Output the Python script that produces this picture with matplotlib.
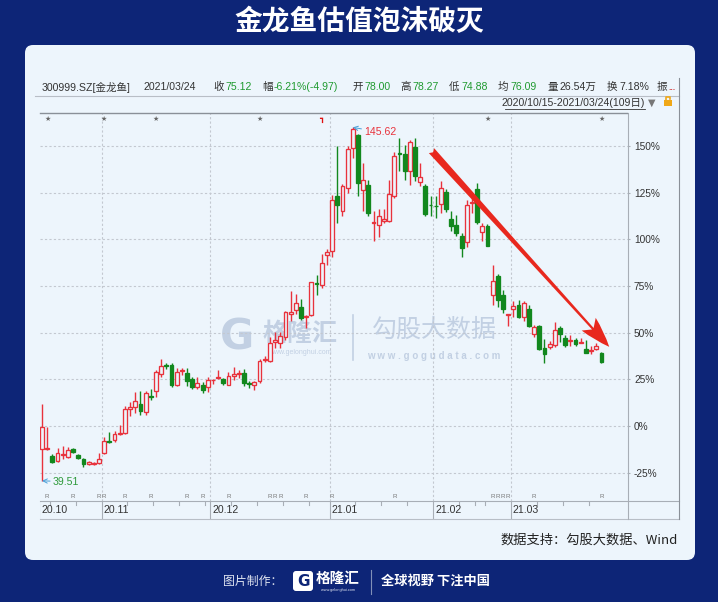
import numpy as np
import pandas as pd
import matplotlib.pyplot as plt
from matplotlib.patches import FancyBboxPatch, Rectangle

plt.rcParams['font.family'] = ['Liberation Sans', 'Noto Sans CJK SC', 'DejaVu Sans']

# ---- data: daily candles of 300999.SZ, % change vs 56.00 (first open) ----
pct_open = [-12.3, -12.3, -16.1, -18.8, -15.4, -16.5, -12.2, -15.4, -17.9, -20.6,
            -20.2, -20.0, -14.3, -8.4, -7.5, -4.1, -3.6, 9.0, 10.4, 11.8,
            7.7, 15.6, 18.8, 28.1, 32.3, 32.9, 22.0, 29.4, 28.3, 25.4,
            21.1, 22.2, 20.8, 24.4, 25.8, 25.1, 22.0, 26.8, 28.0, 28.3,
            22.5, 22.0, 24.1, 35.5, 35.0, 45.1, 44.7, 47.9, 60.1, 61.9,
            64.0, 58.4, 59.6, 76.3, 75.6, 91.6, 93.5, 123.0, 115.0, 127.5,
            149.0, 155.7, 126.6, 129.0, 109.0, 107.8, 110.0, 109.6, 123.1, 146.0,
            145.8, 136.5, 149.3, 130.5, 128.4, 118.4, 117.9, 118.9, 125.3, 110.9,
            107.8, 101.6, 98.6, 119.4, 127.0, 103.9, 107.3, 70.3, 80.5, 70.3,
            59.4, 62.6, 64.9, 58.3, 62.6, 49.4, 53.7, 41.7, 42.2, 43.5,
            52.4, 47.0, 45.7, 45.8, 44.6, 41.3, 40.1, 41.2, 39.3]
pct_high = [11.8, -0.5, -15.2, -11.8, -10.7, -11.3, -11.6, -14.9, -17.3, -18.7,
            -19.3, -14.3, -6.1, -3.2, -2.7, 0.5, 10.5, 13.0, 18.1, 18.6,
            19.0, 20.0, 30.0, 35.8, 34.0, 34.0, 31.2, 31.3, 31.0, 26.4,
            26.0, 23.6, 26.1, 25.2, 30.0, 25.6, 28.9, 31.8, 30.0, 30.6,
            24.0, 24.0, 35.8, 37.6, 47.6, 50.6, 50.6, 61.4, 72.1, 70.9,
            68.2, 59.5, 76.9, 81.0, 92.3, 95.0, 124.0, 149.9, 129.7, 149.9,
            160.0, 156.5, 141.0, 131.7, 115.3, 116.0, 116.3, 132.0, 146.8, 154.4,
            150.8, 153.4, 154.4, 141.0, 129.7, 123.0, 123.0, 131.1, 127.0, 115.0,
            113.1, 103.4, 120.9, 122.2, 130.2, 108.7, 108.0, 86.0, 81.5, 73.0,
            60.1, 66.7, 67.3, 66.7, 64.6, 54.2, 54.2, 46.5, 45.6, 55.9,
            53.7, 48.5, 48.8, 47.0, 47.0, 46.1, 42.6, 44.5, 39.8]
pct_low = [-29.4, -12.9, -20.0, -19.3, -17.7, -17.2, -14.6, -17.9, -21.8, -21.1,
           -20.7, -20.2, -15.2, -8.9, -8.4, -4.7, -4.2, 5.4, 7.1, 5.9,
           5.9, 13.9, 15.7, 26.5, 30.4, 20.7, 21.2, 27.4, 21.3, 20.0,
           19.8, 17.7, 18.1, 22.6, 25.3, 21.7, 22.0, 24.7, 25.9, 21.3,
           20.6, 19.5, 23.1, 34.3, 34.5, 41.7, 41.9, 46.3, 56.5, 59.8,
           57.0, 52.7, 59.0, 70.3, 73.9, 86.0, 90.8, 108.7, 112.3, 124.8,
           143.6, 123.0, 115.0, 112.5, 99.2, 101.4, 108.6, 109.3, 122.2, 136.5,
           132.0, 129.3, 131.1, 128.4, 112.6, 112.3, 111.3, 114.1, 114.4, 104.3,
           101.9, 90.3, 95.9, 114.1, 108.4, 98.9, 96.2, 64.9, 64.0, 60.6,
           53.7, 58.6, 58.0, 56.5, 53.2, 47.9, 40.7, 33.6, 41.0, 42.5,
           45.2, 42.5, 43.1, 42.8, 44.2, 39.3, 38.6, 40.8, 33.7]
pct_close = [-0.5, -12.2, -19.5, -14.5, -15.3, -12.9, -14.0, -17.3, -20.4, -19.3,
             -20.1, -17.9, -7.9, -8.6, -4.5, -4.0, 9.1, 10.0, 13.4, 7.9,
             17.5, 15.4, 29.0, 32.4, 32.1, 21.8, 29.1, 29.5, 24.3, 20.8,
             23.0, 19.3, 24.7, 24.5, 25.9, 22.9, 26.8, 28.1, 28.1, 23.2,
             22.4, 23.4, 34.9, 35.6, 44.5, 46.1, 48.4, 61.2, 61.2, 65.8,
             57.8, 58.5, 76.9, 76.2, 87.3, 93.2, 121.0, 118.2, 128.4, 148.6,
             159.3, 130.2, 132.0, 114.1, 109.1, 112.3, 110.9, 124.3, 144.6, 145.6,
             136.5, 152.2, 133.8, 133.6, 113.6, 118.2, 117.7, 127.5, 116.4, 107.3,
             103.4, 95.3, 118.2, 119.5, 109.1, 106.9, 96.6, 77.8, 67.3, 62.6,
             59.6, 64.4, 58.6, 65.8, 53.7, 53.0, 41.2, 38.5, 44.0, 51.5,
             49.4, 43.5, 45.8, 44.0, 44.7, 39.3, 40.2, 43.0, 34.1]

y_ticks = [-25, 0, 25, 50, 75, 100, 125, 150]
hi_label, lo_label = '145.62', '39.51'
star_days = [1, 12, 22, 42, 86, 108]
flag_day = 54
r_days = [1, 6, 11, 12, 16, 21, 28, 31, 36, 44, 45, 46, 51, 56, 68, 87, 88, 89, 90, 95, 108]

head_labels = ['收', '幅', '开', '高', '低', '均', '量', '换']
head_values = ['75.12', '-6.21%(-4.97)', '78.00', '78.27', '74.88', '76.09', '26.54万', '7.18%']

title = '金龙鱼估值泡沫破灭'
source = '数据支持：勾股大数据、Wind'

# trading days 2020/10/15 - 2021/03/24
dates = pd.bdate_range('2020-10-15', '2021-03-24')
closed = pd.to_datetime(['2021-01-01', '2021-02-11', '2021-02-12', '2021-02-15',
                         '2021-02-16', '2021-02-17'])
dates = dates[~dates.isin(closed)]
idx = np.arange(len(dates))

RED = '#e8323c'
GREEN = '#12881e'
PANEL = '#edf5fc'
NAVY = '#0d2577'
GRID = '#c3c8d0'

fig = plt.figure(figsize=(7.18, 6.02), dpi=100)
fig.patch.set_facecolor(NAVY)

# pixel-coordinate background layer
bg = fig.add_axes([0, 0, 1, 1])
bg.set_xlim(0, 718)
bg.set_ylim(602, 0)
bg.axis('off')
bg.add_patch(FancyBboxPatch((25, 45), 670, 515, boxstyle='round,pad=0,rounding_size=8',
                            fc=PANEL, ec='none'))
bg.text(359, 22, title, color='white', fontsize=20, fontweight='bold',
        ha='center', va='center', family='Noto Sans CJK SC')

# header of the quote screen
fs_h = 7.6
bg.text(42, 87, '300999.SZ[金龙鱼]', fontsize=fs_h, color='#333333', va='center')
bg.text(143, 87, '2021/03/24', fontsize=fs_h, color='#333333', va='center')
head_x = [213, 262, 352, 400, 449, 498, 547, 607]
for k, (lab, val) in enumerate(zip(head_labels, head_values)):
    bg.text(head_x[k], 87, lab, fontsize=fs_h, color='#333333', va='center')
    vc = '#1f9a2f' if k < 6 else '#333333'
    bg.text(head_x[k] + 12, 87, val, fontsize=fs_h, color=vc, va='center')
bg.text(657, 87, '振', fontsize=fs_h, color='#333333', va='center')
bg.text(668, 88, '...', fontsize=6, color='#d02020', va='center', fontweight='bold')
bg.plot([35, 679], [95.5, 95.5], color='#b8bec6', lw=0.8)
bg.text(645, 103, '2020/10/15-2021/03/24(109日)', fontsize=fs_h, color='#333333',
        va='center', ha='right')
bg.plot([505, 645], [108.5, 108.5], color='#333333', lw=0.6)
bg.text(652, 103, '▼', fontsize=7, color='#777777', va='center', ha='center',
        family='DejaVu Sans')
bg.add_patch(Rectangle((664, 100), 8, 6, fc='#f0a818', ec='none'))
bg.plot([666, 666, 670, 670], [100, 97, 97, 98.5], color='#f0a818', lw=1.2)

# frame lines of the screen
bg.plot([40, 679], [519, 519], color='#b8bec6', lw=0.8)
bg.plot([40, 679], [501, 501], color='#a8aeb6', lw=0.8)
bg.plot([628, 628], [113, 519], color='#a8aeb6', lw=0.8)
bg.plot([679, 679], [78, 519], color='#8a9098', lw=0.8)

# watermarks
wm = '#c2d0e3'
bg.text(237, 337, 'G', fontsize=30, fontweight='bold', color=wm, ha='center',
        va='center', family='DejaVu Sans')
bg.text(300, 334, '格隆汇', fontsize=18, fontweight='bold', color=wm, ha='center',
        va='center', family='Noto Sans CJK SC')
bg.text(300, 352, 'www.gelonghui.com', fontsize=5, color=wm, ha='center', va='center')
bg.plot([353, 353], [315, 360], color=wm, lw=1.2)
bg.text(434, 330, '勾股大数据', fontsize=18, color=wm, ha='center', va='center',
        family='Noto Sans CJK SC')
bg.text(434, 356, ' '.join('www.gogudata.com'), fontsize=7, color=wm, ha='center',
        va='center', fontweight='bold')

# source line
bg.text(678, 540, source, fontsize=9.5, color='#222222', ha='right', va='center',
        family='Noto Sans CJK SC')

# footer
bg.text(282, 581, '图片制作：', fontsize=8.6, color='#dfe4f0', ha='right', va='center',
        family='Noto Sans CJK SC')
bg.add_patch(FancyBboxPatch((293, 571), 20, 20, boxstyle='round,pad=0,rounding_size=3',
                            fc='white', ec='none'))
bg.text(303, 581, 'G', fontsize=11, fontweight='bold', color=NAVY, ha='center',
        va='center', family='DejaVu Sans')
bg.text(316, 578, '格隆汇', fontsize=10.5, fontweight='bold', color='white',
        va='center', family='Noto Sans CJK SC')
bg.text(338, 590, 'www.gelonghui.com', fontsize=2.8, color='#dfe4f0', ha='center',
        va='center')
bg.plot([371, 371], [570, 594], color='#8090b8', lw=0.8)
bg.text(381, 581, '全球视野 下注中国', fontsize=9.5, fontweight='bold', color='white',
        va='center', family='Noto Sans CJK SC')

# ---- main candlestick axes ----
ax = fig.add_axes([40 / 718, 101 / 602, 587 / 718, 388 / 602])
ax.set_zorder(2)
ax.patch.set_alpha(0)
ax.set_xlim(-0.386, 112.93)
ax.set_ylim(-40.2, 167.7)

for v in y_ticks:
    ax.axhline(v, color=GRID, lw=0.8, ls=(0, (2, 2)), zorder=1)
month_start = [i for i in idx[1:] if dates[i].month != dates[i - 1].month]
for i in month_start:
    ax.axvline(i - 0.5, color=GRID, lw=0.8, ls=(0, (2, 2)), zorder=1)

o = np.array(pct_open)
h = np.array(pct_high)
l = np.array(pct_low)
c = np.array(pct_close)
up = c >= o
cols = np.where(up, RED, GREEN)
ax.vlines(idx, l, h, colors=cols, lw=1.0, zorder=2)
body_h = np.maximum(np.abs(c - o), 0.4)
ax.bar(idx, body_h, bottom=np.minimum(o, c), width=0.74,
       color=np.where(up, PANEL, GREEN), edgecolor=cols, linewidth=0.95, zorder=3)

# extremes
ih = int(np.argmax(h))
il = int(np.argmin(l))
ax.annotate(hi_label, xy=(ih, h[ih]), xytext=(ih + 2.2, h[ih] - 2.6), fontsize=7.6,
            color=RED, va='center',
            arrowprops=dict(arrowstyle='->', color='#4aa0d8', lw=0.7, shrinkA=0, shrinkB=0))
ax.annotate(lo_label, xy=(il, l[il]), xytext=(il + 2.1, l[il] - 0.4), fontsize=7.6,
            color='#2e9a3a', va='center',
            arrowprops=dict(arrowstyle='->', color='#4aa0d8', lw=0.7, shrinkA=0, shrinkB=0))

# event marks
for d in star_days:
    ax.text(d, 164.5, '★', fontsize=5, color='#666666', ha='center', va='center',
            family='DejaVu Sans')
ax.text(flag_day, 164.5, '┓', fontsize=6, color='#e01010', ha='center', va='center',
        family='DejaVu Sans', fontweight='bold')
for d in r_days:
    ax.text(d, -38.0, 'R', fontsize=4.5, color='#777777', ha='center', va='center')

# trend arrow
ax.annotate('', xy=(109.5, 42.4), xytext=(75.2, 147.5),
            arrowprops=dict(arrowstyle='fancy,head_length=0.55,head_width=0.34,tail_width=0.13',
                            fc='#e8281e', ec='none', mutation_scale=40,
                            shrinkA=0, shrinkB=0), zorder=5)

ax.yaxis.tick_right()
ax.set_yticks(y_ticks)
ax.set_yticklabels([f'{v}%' for v in y_ticks], fontsize=7.3, color='#333333')
ax.tick_params(axis='y', length=2, pad=3, color='#a8aeb6')
ax.set_xticks([])
for s in ['left', 'bottom', 'right']:
    ax.spines[s].set_visible(False)
ax.spines['top'].set_color('#8a9098')
ax.spines['top'].set_linewidth(1.0)

# ---- date row ----
axd = fig.add_axes([40 / 718, 83 / 602, 587 / 718, 18 / 602])
axd.set_zorder(2)
axd.patch.set_alpha(0)
axd.set_xlim(ax.get_xlim())
axd.set_ylim(1, 0)
axd.axis('off')
week_start = [i for i in idx[1:] if dates[i].isocalendar()[1] != dates[i - 1].isocalendar()[1]]
for i in week_start:
    if i not in month_start:
        axd.plot([i - 0.5, i - 0.5], [0, 0.2], color='#a8aeb6', lw=0.8)
for i in [0] + month_start:
    axd.plot([i - 0.5, i - 0.5], [0, 1], color='#a8aeb6', lw=0.8)
    axd.text(i - 0.1, 0.52, dates[i].strftime('%y.%m'), fontsize=7.6, color='#333333',
             va='center', ha='left')

fig.savefig('out.png', dpi=100)
